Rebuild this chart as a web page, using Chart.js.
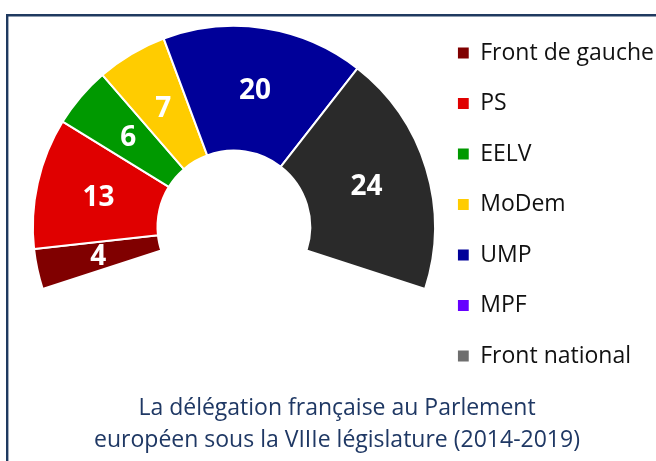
<!DOCTYPE html>
<html>
<head>
<meta charset="utf-8">
<script src="https://cdn.jsdelivr.net/npm/chart.js@4.4.1/dist/chart.umd.min.js"></script>
<style>
  html, body { margin: 0; padding: 0; background: #fff; }
  #wrap { width: 656px; height: 461px; }
</style>
</head>
<body>
<div id="wrap"><canvas id="delegationChart"></canvas></div>
<script>
const partis = ['Front de gauche', 'PS', 'EELV', 'MoDem', 'UMP', 'MPF', 'Front national'];
const sieges = [4, 13, 6, 7, 20, 0, 24];
const couleurs = ['#800000', '#E00000', '#009900', '#FFCC00', '#000099', '#6600FF', '#2A2A2A'];
const couleursLegende = ['#800000', '#E00000', '#009900', '#FFCC00', '#000099', '#6600FF', '#6E6E6E'];
const titre = ['La délégation française au Parlement', 'européen sous la VIIIe législature (2014-2019)'];

// thin frame round the picture (top and left edges only are visible)
const cadre = {
  id: 'cadre',
  beforeDraw(chart) {
    const ctx = chart.ctx;
    ctx.save();
    ctx.strokeStyle = '#1F3A60';
    ctx.lineWidth = 2.4;
    ctx.beginPath();
    ctx.moveTo(7.2, chart.height + 5);
    ctx.lineTo(7.2, 15.2);
    ctx.lineTo(chart.width + 5, 15.2);
    ctx.stroke();
    ctx.restore();
  }
};

// seat counts written in the middle of each slice
const etiquettes = {
  id: 'etiquettes',
  afterDatasetsDraw(chart) {
    const ctx = chart.ctx;
    const meta = chart.getDatasetMeta(0);
    ctx.save();
    ctx.font = 'bold 28px "Open Sans"';
    ctx.fillStyle = '#fff';
    ctx.textAlign = 'center';
    ctx.textBaseline = 'middle';
    meta.data.forEach((arc, i) => {
      const v = chart.data.datasets[0].data[i];
      if (!v) return;
      const p = arc.tooltipPosition();
      ctx.fillText(String(v), p.x, p.y + 1);
    });
    ctx.restore();
  }
};

function legendLabels(chart) {
  const items = Chart.overrides.doughnut.plugins.legend.labels.generateLabels(chart);
  return items.map((item, i) => Object.assign(item, {
    text: [item.text],
    fillStyle: couleursLegende[i],
    strokeStyle: couleursLegende[i],
    lineWidth: 0
  }));
}

const ctx = document.getElementById('delegationChart');
const chart = new Chart(ctx, {
  type: 'doughnut',
  data: {
    labels: partis,
    datasets: [{
      data: sieges,
      backgroundColor: couleurs,
      borderColor: '#fff',
      borderWidth: 2,
      hoverOffset: 0
    }]
  },
  options: {
    responsive: true,
    maintainAspectRatio: false,
    animation: false,
    rotation: 252,
    circumference: 216,
    cutout: '38%',
    radius: 201,
    layout: {
      padding: { top: 0, bottom: 0, left: 10, right: -8 }
    },
    plugins: {
      legend: {
        position: 'right',
        align: 'start',
        fullSize: true,
        title: { display: true, text: '', font: { size: 12, lineHeight: '41.5px' }, padding: 0 },
        labels: {
          boxWidth: 11,
          boxHeight: 11,
          padding: 0,
          color: '#111',
          font: { family: 'Open Sans', size: 23, lineHeight: '50.5px' },
          generateLabels: legendLabels
        }
      },
      title: {
        display: true,
        position: 'bottom',
        text: titre,
        color: '#1F3864',
        font: { family: 'Open Sans', size: 23, weight: 'normal', lineHeight: '32px' },
        padding: { top: 77, bottom: 5 }
      },
      tooltip: { enabled: false }
    }
  },
  plugins: [cadre, etiquettes]
});
</script>
</body>
</html>
